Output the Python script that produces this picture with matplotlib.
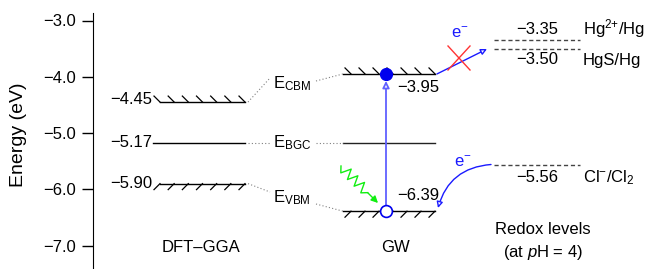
import matplotlib
matplotlib.use('Agg')
import matplotlib.pyplot as plt
import numpy as np
from matplotlib.patches import FancyArrowPatch

plt.rcParams['font.family'] = ['Liberation Sans', 'DejaVu Sans']
plt.rcParams['mathtext.fontset'] = 'custom'
plt.rcParams['mathtext.rm'] = 'Liberation Sans'
plt.rcParams['mathtext.it'] = 'Liberation Sans:italic'
plt.rcParams['mathtext.bf'] = 'Liberation Sans:bold'

# data (eV)
dft_levels = [-4.45, -5.17, -5.90]
gw_levels = [-3.95, -5.17, -6.39]
level_names = ['CBM', 'BGC', 'VBM']
redox_levels = [-3.35, -3.50, -5.56]
redox_names = ['Hg$^{2{+}}$/Hg', 'HgS/Hg', 'Cl$^{-}$/Cl$_2$']
yticks = [-3.0, -4.0, -5.0, -6.0, -7.0]
columns = ['DFT\u2013GGA', 'GW']

FS = 12
PX = 1 / 56.25          # eV per pixel
def ey(ypx):            # pixel row -> energy, for placing annotations
    return -3.0 - (ypx - 20.5) * PX

def fmt(v):
    return '\u2212%.2f' % abs(v)

fig = plt.figure(figsize=(6.47, 2.69), dpi=100)
ax = fig.add_axes([0, 0, 1, 1])
ax.set_xlim(0, 647)
ax.set_ylim(ey(269), ey(0))
ax.patch.set_alpha(0)
for s in ['top', 'right', 'bottom']:
    ax.spines[s].set_visible(False)
ax.spines['left'].set_position(('data', 93))
ax.spines['left'].set_bounds(ey(269), ey(13))
ax.set_xticks([])
ax.set_yticks(yticks)
ax.set_yticklabels(['\u2212%.1f' % abs(t) for t in yticks])
ax.tick_params(axis='y', direction='out', length=8, width=1, labelsize=FS, pad=4)
ax.text(19, ey(135), 'Energy (eV)', rotation=90, ha='center', va='center', fontsize=14)

def hatch(xs, y, up):
    d = 6 * PX
    for xb in xs:
        if up:
            ax.plot([xb - 6, xb], [y + d, y], color='k', lw=0.9)
        else:
            ax.plot([xb - 6, xb], [y - d, y], color='k', lw=0.9)

# DFT-GGA column
dx0, dx1 = 160, 245
for v, nm in zip(dft_levels, level_names):
    if nm == 'BGC':
        ax.plot([153, dx1], [v, v], color='k', lw=1)
        ax.text(152, v, fmt(v), ha='right', va='center', fontsize=FS)
    else:
        ax.plot([dx0, dx1], [v, v], color='k', lw=1)
        hatch(np.linspace(dx0, dx1, 7), v, nm == 'CBM')
        ax.text(152, v + (3 * PX if nm == 'CBM' else 0), fmt(v),
                ha='right', va='center', fontsize=FS)

# GW column
gx0, gx1 = 343, 435
for v, nm in zip(gw_levels, level_names):
    ax.plot([gx0, gx1], [v, v], color='k' if nm != 'BGC' else '#222222', lw=1)
    if nm != 'BGC':
        hatch(np.linspace(gx0 + 8, gx1, 7), v, nm == 'CBM')
ax.text(397, ey(88), fmt(gw_levels[0]), ha='left', va='center', fontsize=FS)
ax.text(397, ey(195), fmt(gw_levels[2]), ha='left', va='center', fontsize=FS)

# connectors and E labels
lab_y = [ey(84), ey(143), ey(198)]
in_y = [ey(78), gw_levels[1], ey(192)]
out_y = [ey(81), gw_levels[1], ey(204)]
for d, g, nm, ly, iy, oy in zip(dft_levels, gw_levels, level_names, lab_y, in_y, out_y):
    ax.plot([248, 270], [d, iy], color='gray', lw=0.8, ls=(0, (1, 2)))
    ax.plot([316, gx0], [oy, g], color='gray', lw=0.8, ls=(0, (1, 2)))
    ax.text(273, ly, 'E$_{\\rm %s}$' % nm, ha='left', va='center', fontsize=FS)

# electron & hole
ax.plot(386, gw_levels[0], 'o', ms=8.5, color='#0000ee', zorder=5)
ax.plot(386, gw_levels[2], 'o', ms=8.5, mfc='white', mec='#0000ee', mew=1.2, zorder=5)
ax.add_patch(FancyArrowPatch((386, gw_levels[2] + 6 * PX), (386, gw_levels[0] - 7 * PX),
                             arrowstyle='-|>', mutation_scale=10, fc='white',
                             ec='#6060ff', lw=1.3, shrinkA=0, shrinkB=0, zorder=4))

# redox levels
for v, nm in zip(redox_levels, redox_names):
    ax.plot([494, 580], [v, v], color='#444444', lw=1, ls=(0, (3, 2)))
ax.text(537, ey(30), fmt(redox_levels[0]), ha='center', va='center', fontsize=FS)
ax.text(537, ey(60), fmt(redox_levels[1]), ha='center', va='center', fontsize=FS)
ax.text(537, ey(178), fmt(redox_levels[2]), ha='center', va='center', fontsize=FS)
ax.text(583, ey(29), redox_names[0], ha='left', va='center', fontsize=FS)
ax.text(583, ey(60), redox_names[1], ha='left', va='center', fontsize=FS)
ax.text(583, ey(178), redox_names[2], ha='left', va='center', fontsize=FS)

# blocked electron transfer to Hg levels
ax.add_patch(FancyArrowPatch((437, gw_levels[0]), (487, ey(49)),
                             arrowstyle='-|>', mutation_scale=9, fc='white',
                             ec='#1a1aff', lw=1, shrinkA=0, shrinkB=0))
ax.plot([448, 470], [ey(46), ey(70)], color='#ff3333', lw=1)
ax.plot([448, 470], [ey(70), ey(46)], color='#ff3333', lw=1)
ax.text(460, ey(33), 'e$^{-}$', ha='center', va='center', fontsize=FS, color='#1a1aff')

# electron from Cl-/Cl2 to the hole
ax.add_patch(FancyArrowPatch((491, redox_levels[2]), (438, ey(208)),
                             arrowstyle='-|>', mutation_scale=9, fc='white',
                             ec='#1a1aff', lw=1, shrinkA=0, shrinkB=0,
                             connectionstyle='arc3,rad=0.35'))
ax.text(463, ey(162), 'e$^{-}$', ha='center', va='center', fontsize=FS, color='#1a1aff')

# photon
p0 = np.array([341.0, 166.0])
p1 = np.array([378.0, 203.0])
dvec = p1 - p0
L = np.hypot(*dvec)
u = dvec / L
nrm = np.array([-u[1], u[0]])
t = np.linspace(0, 0.72, 9)
amp = np.array([0, 5, -5, 5, -5, 5, -5, 5, 0])
pts = p0 + np.outer(t * L, u) + np.outer(amp, nrm)
ax.plot(pts[:, 0], ey(pts[:, 1]), color='#11ee11', lw=1)
ax.add_patch(FancyArrowPatch((pts[-1, 0], ey(pts[-1, 1])), (p1[0], ey(p1[1])),
                             arrowstyle='-|>', mutation_scale=10, color='#11ee11',
                             lw=1, shrinkA=0, shrinkB=0))

# column titles
ax.text(201, ey(247), columns[0], ha='center', va='center', fontsize=FS)
ax.text(395, ey(248), columns[1], ha='center', va='center', fontsize=FS)
ax.text(543, ey(230), 'Redox levels', ha='center', va='center', fontsize=FS)
ax.text(543, ey(252), '(at $\\it{p}$H = 4)', ha='center', va='center', fontsize=FS)

fig.savefig('out.png', dpi=100)
